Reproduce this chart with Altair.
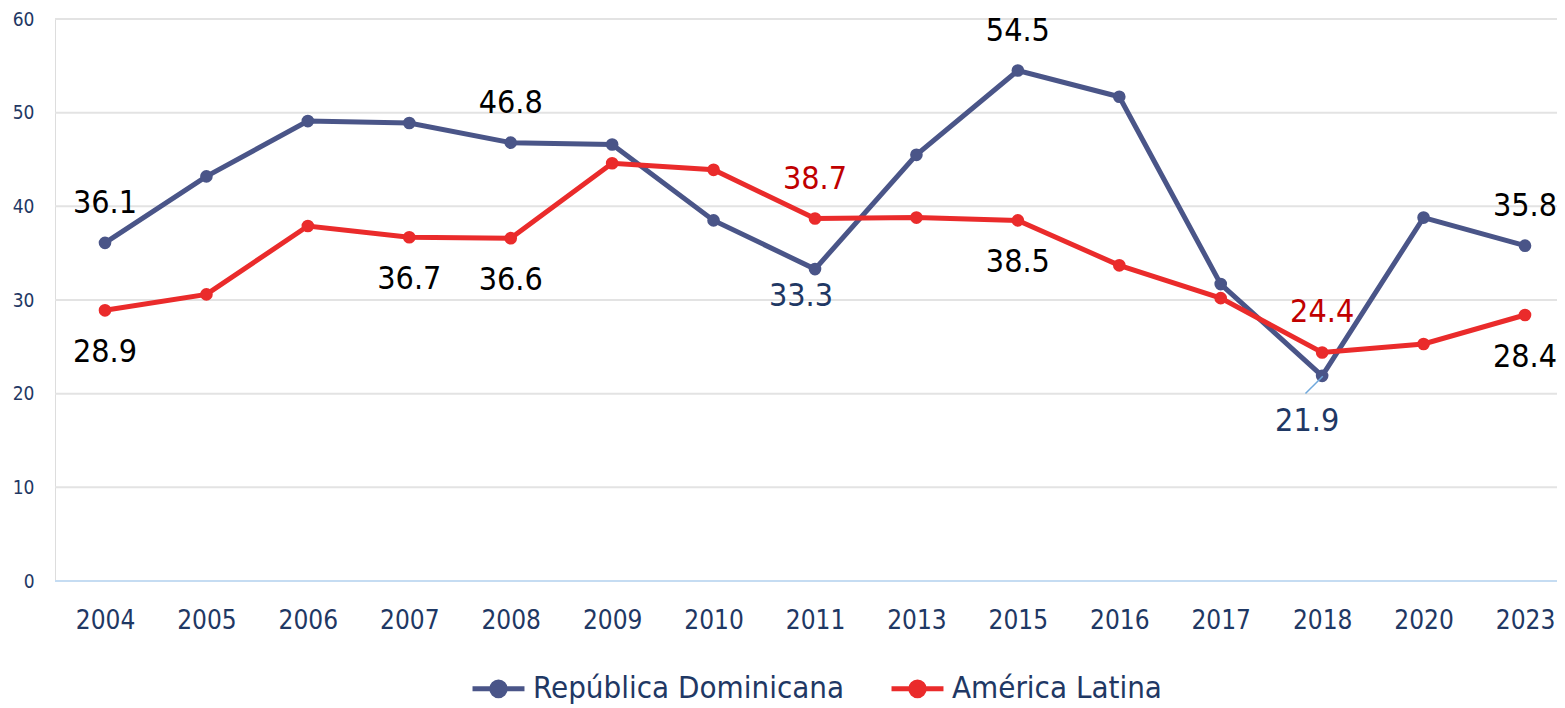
import altair as alt
import pandas as pd

years = ["2004", "2005", "2006", "2007", "2008", "2009", "2010", "2011",
         "2013", "2015", "2016", "2017", "2018", "2020", "2023"]
rd_values = [36.1, 43.2, 49.1, 48.9, 46.8, 46.6, 38.5, 33.3,
             45.5, 54.5, 51.7, 31.7, 21.9, 38.8, 35.8]
al_values = [28.9, 30.6, 37.9, 36.7, 36.6, 44.6, 43.9, 38.7,
             38.8, 38.5, 33.7, 30.2, 24.4, 25.3, 28.4]
series_names = ["República Dominicana", "América Latina"]
series_colors = ["#4A5588", "#EA2B2B"]
y_ticks = [0, 10, 20, 30, 40, 50, 60]

RD, AL = series_names
label_years = ["2004", "2004", "2007", "2008", "2008", "2011", "2011",
               "2015", "2015", "2018", "2018", "2023", "2023"]
label_series = [RD, AL, AL, AL, RD, AL, RD, RD, AL, AL, RD, RD, AL]
label_place = ["above", "below", "below", "below", "above", "above", "near",
               "above", "below", "above", "leader", "above", "below"]
label_colors = ["#000000", "#000000", "#000000", "#000000", "#000000",
                "#C00000", "#1F3864", "#000000", "#000000", "#C00000",
                "#1F3864", "#000000", "#000000"]

FONT = "DejaVu Sans Condensed, Liberation Sans Narrow, Liberation Sans, sans-serif"
NAVY = "#1F3864"
W, H = 1502, 562

rows = []
for name, vals in zip(series_names, [rd_values, al_values]):
    for i, (y, v) in enumerate(zip(years, vals)):
        rows.append({"year": y, "value": v, "series": name, "order": i})
df = pd.DataFrame(rows)

lookup = {(r["series"], r["year"]): r["value"] for r in rows}
lab = pd.DataFrame({
    "year": label_years,
    "series": label_series,
    "place": label_place,
    "color": label_colors,
})
lab["value"] = [lookup[(s, y)] for s, y in zip(label_series, label_years)]
lab["text"] = [f"{v:.1f}" for v in lab["value"]]

grid_df = pd.DataFrame({"value": y_ticks})

x_scale = alt.Scale(type="point", range=[50, 1470], padding=0)
x_axis = alt.Axis(title=None, labelAngle=0, labelAlign="center", labelFont=FONT,
                  labelFontSize=26, labelColor=NAVY, labelPadding=26,
                  ticks=False, domain=False, grid=False)
x_enc = alt.X("year:O", sort=years, scale=x_scale, axis=x_axis)
y_scale = alt.Scale(domain=[0, 60], nice=False, zero=True)
y_axis = alt.Axis(title=None, values=y_ticks,
                  labelFont=FONT, labelFontSize=19, labelColor=NAVY,
                  labelPadding=21, ticks=False, domain=False, grid=False)
y_enc = alt.Y("value:Q", scale=y_scale, axis=y_axis)

legend_path = "M-1,0H1M-0.26,0A0.26,0.26,0,1,1,0.26,0A0.26,0.26,0,1,1,-0.26,0Z"
color_enc = alt.Color("series:N",
                      scale=alt.Scale(domain=series_names, range=series_colors),
                      legend=alt.Legend(title=None, orient="none",
                                        direction="horizontal",
                                        legendX=415, legendY=641,
                                        symbolType=legend_path,
                                        symbolSize=2700, symbolStrokeWidth=5,
                                        labelFont=FONT, labelFontSize=31,
                                        labelColor=NAVY, labelOffset=6,
                                        columnPadding=36, labelLimit=500))

grid = alt.Chart(grid_df).transform_filter(alt.datum.value > 0).mark_rule(
    color="#E3E3E3", strokeWidth=2
).encode(y=alt.Y("value:Q", scale=y_scale, axis=y_axis),
         x=alt.value(0), x2=alt.value(W))
zero_line = alt.Chart(grid_df).transform_filter(alt.datum.value == 0).mark_rule(
    color="#C5DCF2", strokeWidth=2
).encode(y=alt.Y("value:Q", scale=y_scale, axis=y_axis),
         x=alt.value(0), x2=alt.value(W))

base = alt.Chart(df).encode(x=x_enc, y=y_enc, color=color_enc)

layers = [grid, zero_line]
for name in series_names:
    sub = base.transform_filter(alt.datum.series == name)
    layers.append(sub.mark_line(strokeWidth=5).encode(order="order:Q"))
    layers.append(sub.mark_point(filled=True, size=160, opacity=1))

lbase = alt.Chart(lab).encode(
    x=alt.X("year:O", sort=years, scale=x_scale, axis=x_axis),
    y=alt.Y("value:Q", scale=y_scale, axis=y_axis),
    text="text:N",
    color=alt.Color("color:N", scale=None),
)
offsets = {"above": (0, -40), "below": (0, 42), "near": (-14, 27), "leader": (-15, 45)}
for place, (dx, dy) in offsets.items():
    layers.append(
        lbase.transform_filter(alt.datum.place == place)
        .mark_text(font=FONT, fontSize=32, dx=dx, dy=dy, baseline="middle", align="center")
    )

leader = alt.Chart(lab).transform_filter(alt.datum.place == "leader").mark_point(
    shape="M1,-1L-1,1", size=300, filled=False, color="#6FA8DC",
    strokeWidth=1.5, opacity=1, xOffset=-8, yOffset=9
).encode(
    x=alt.X("year:O", sort=years, scale=x_scale, axis=x_axis),
    y=alt.Y("value:Q", scale=y_scale, axis=y_axis),
)
layers.append(leader)

chart = alt.layer(*layers).properties(
    width=W, height=H,
    autosize=alt.AutoSizeParams(type="none"),
    padding={"left": 47, "top": 11, "right": 0, "bottom": 127},
).configure_view(stroke=None).configure(background="white")

chart.save("out.html", embed_options={"renderer": "svg", "actions": False})
